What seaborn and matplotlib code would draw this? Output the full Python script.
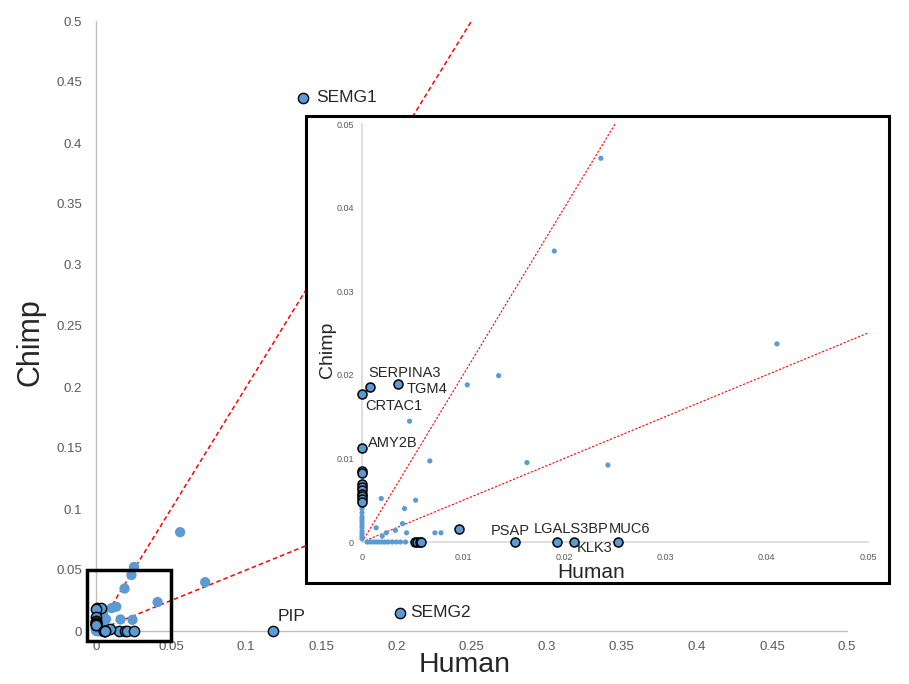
import numpy as np
import pandas as pd
import matplotlib
matplotlib.use('Agg')
import matplotlib.pyplot as plt
import seaborn as sns
from matplotlib.patches import Rectangle

# ---- data (fraction of reads, human vs chimp) ----
plain_human = [0.056, 0.0727, 0.0253, 0.0236, 0.0190, 0.0410, 0.0243, 0.0135, 0.0104,
               0.0047, 0.0067, 0.0163, 0.0019, 0.0053, 0.0042, 0.0040, 0.0014, 0.0033,
               0.0024, 0.0020, 0.0044, 0.0072, 0.0078,
               0.0005, 0.0008, 0.0011, 0.0014, 0.0017, 0.0020, 0.0023, 0.0026, 0.0030,
               0.0034, 0.0038, 0.0043,
               0, 0, 0, 0, 0, 0, 0, 0, 0, 0, 0, 0]
plain_chimp = [0.081, 0.040, 0.0525, 0.0459, 0.0348, 0.0237, 0.0092, 0.0199, 0.0188,
               0.01445, 0.0097, 0.0095, 0.0052, 0.0050, 0.0040, 0.0022, 0.0017, 0.0014,
               0.0011, 0.0007, 0.0011, 0.0011, 0.0011,
               0, 0, 0, 0, 0, 0, 0, 0, 0, 0, 0, 0,
               0.0004, 0.0007, 0.0010, 0.0013, 0.0017, 0.0020, 0.0024, 0.0027, 0.0030,
               0.0035, 0.0040, 0.0045]

hi_human = [0.138, 0.2027, 0.118, 0.0008, 0.0036, 0, 0, 0.0151, 0.0193, 0.0209, 0.0253,
            0.0096, 0, 0, 0, 0, 0, 0, 0, 0, 0, 0.0052, 0.0054, 0.0057, 0.0058]
hi_chimp = [0.437, 0.0148, 0, 0.0185, 0.0189, 0.0177, 0.0113, 0, 0, 0, 0,
            0.0016, 0.0085, 0.0083, 0.0069, 0.0066, 0.0062, 0.0058, 0.0055, 0.0051, 0.0048,
            0, 0, 0, 0]

main_labels = ['SEMG1', 'SEMG2', 'PIP']
main_label_x = [0.1467, 0.2093, 0.1207]
main_label_y = [0.437, 0.0148, 0.0115]

inset_labels = ['SERPINA3', 'TGM4', 'CRTAC1', 'AMY2B', 'PSAP', 'LGALS3BP', 'KLK3', 'MUC6']
inset_label_x = [0.0006, 0.0044, 0.00036, 0.0006, 0.0127, 0.0170, 0.02125, 0.0244]
inset_label_y = [0.0202, 0.0183, 0.0163, 0.0118, 0.0013, 0.0015, -0.0007, 0.0015]

ref_slopes = [2.0, 0.5]

plain = pd.DataFrame({'Human': plain_human, 'Chimp': plain_chimp})
hi = pd.DataFrame({'Human': hi_human, 'Chimp': hi_chimp})


def in_zoom(d, lim=0.05):
    return d[(d['Human'] <= lim) & (d['Chimp'] <= lim)]


sns.set_style('white')
plt.rcParams['font.family'] = ['Liberation Sans', 'DejaVu Sans']

blue = '#5B9BD5'
grid_grey = '#BFBFBF'
tick_grey = '#595959'

fig = plt.figure(figsize=(9.09, 6.84), dpi=100)

# ===== MAIN PLOT =====
ax = fig.add_axes([96 / 909, 1 - 631 / 684, 751 / 909, 610 / 684])
for m in ref_slopes:
    xe = min(0.5, 0.5 / m)
    ax.plot([0, xe], [0, m * xe], color='red', lw=1.1, ls=(0, (3, 2)), zorder=2)

sns.scatterplot(data=plain, x='Human', y='Chimp', ax=ax, color=blue, s=55,
                edgecolor='none', zorder=3, clip_on=False)
sns.scatterplot(data=hi, x='Human', y='Chimp', ax=ax, color=blue, s=55,
                edgecolor='black', linewidth=1.0, zorder=3, clip_on=False)

for name, tx, ty in zip(main_labels, main_label_x, main_label_y):
    ax.text(tx, ty, name, fontsize=12.5, ha='left', va='center', zorder=6)

ax.set_xlim(0, 0.5)
ax.set_ylim(0, 0.5)
ticks = np.arange(0, 0.501, 0.05)
tick_labels = ['0', '0.05', '0.1', '0.15', '0.2', '0.25', '0.3', '0.35', '0.4', '0.45', '0.5']
ax.set_xticks(ticks)
ax.set_xticklabels(tick_labels)
ax.set_yticks(ticks)
ax.set_yticklabels(tick_labels)
ax.tick_params(axis='both', direction='out', length=5, width=1, color=grid_grey,
               labelcolor=tick_grey, labelsize=9.5)
ax.tick_params(axis='x', pad=2)
ax.tick_params(axis='y', pad=5)
ax.spines['top'].set_visible(False)
ax.spines['right'].set_visible(False)
for sp in ['left', 'bottom']:
    ax.spines[sp].set_color(grid_grey)
    ax.spines[sp].set_linewidth(1)
ax.grid(False)
ax.set_xlabel('Human', fontsize=20.5)
ax.set_ylabel('Chimp', fontsize=22)
ax.xaxis.set_label_coords(0.491, -0.034)
ax.yaxis.set_label_coords(-0.067, 0.474)

# zoom box around the low corner
ax.add_patch(Rectangle((-0.006, -0.008), 0.056, 0.058, fill=False, lw=2.5,
                       edgecolor='black', clip_on=False, zorder=4))

# inset frame (white box)
ax.add_patch(Rectangle((306 / 909, 1 - 583 / 684), 583 / 909, 467 / 684,
                       transform=fig.transFigure, facecolor='white', edgecolor='black',
                       lw=2.2, clip_on=False, zorder=5))

# ===== INSET =====
axi = fig.add_axes([362 / 909, 1 - 542 / 684, 506 / 909, 418 / 684])
axi.set_facecolor('none')
for m in ref_slopes:
    xe = min(0.05, 0.05 / m)
    axi.plot([0, xe], [0, m * xe], color='red', lw=0.8, ls=(0, (2, 1.5)), zorder=2)

sns.scatterplot(data=in_zoom(plain), x='Human', y='Chimp', ax=axi, color=blue, s=14,
                edgecolor='none', zorder=3, clip_on=False)
sns.scatterplot(data=in_zoom(hi), x='Human', y='Chimp', ax=axi, color=blue, s=42,
                edgecolor='black', linewidth=1.1, zorder=3, clip_on=False)

for name, tx, ty in zip(inset_labels, inset_label_x, inset_label_y):
    axi.text(tx, ty, name, fontsize=10.5, ha='left', va='center', zorder=6)

axi.set_xlim(0, 0.05)
axi.set_ylim(0, 0.05)
iticks = np.arange(0, 0.0501, 0.01)
itick_labels = ['0', '0.01', '0.02', '0.03', '0.04', '0.05']
axi.set_xticks(iticks)
axi.set_xticklabels(itick_labels)
axi.set_yticks(iticks)
axi.set_yticklabels(itick_labels)
axi.tick_params(axis='both', length=0, labelcolor=tick_grey, labelsize=6.5)
axi.tick_params(axis='x', pad=8)
axi.tick_params(axis='y', pad=6)
axi.spines['top'].set_visible(False)
axi.spines['right'].set_visible(False)
for sp in ['left', 'bottom']:
    axi.spines[sp].set_color('#D9D9D9')
    axi.spines[sp].set_linewidth(1.2)
axi.grid(False)
axi.set_xlabel('Human', fontsize=15)
axi.set_ylabel('Chimp', fontsize=14)
axi.xaxis.set_label_coords(0.4526, -0.050)
axi.yaxis.set_label_coords(-0.051, 0.459)

fig.savefig('out.png', dpi=100)
plt.close(fig)
